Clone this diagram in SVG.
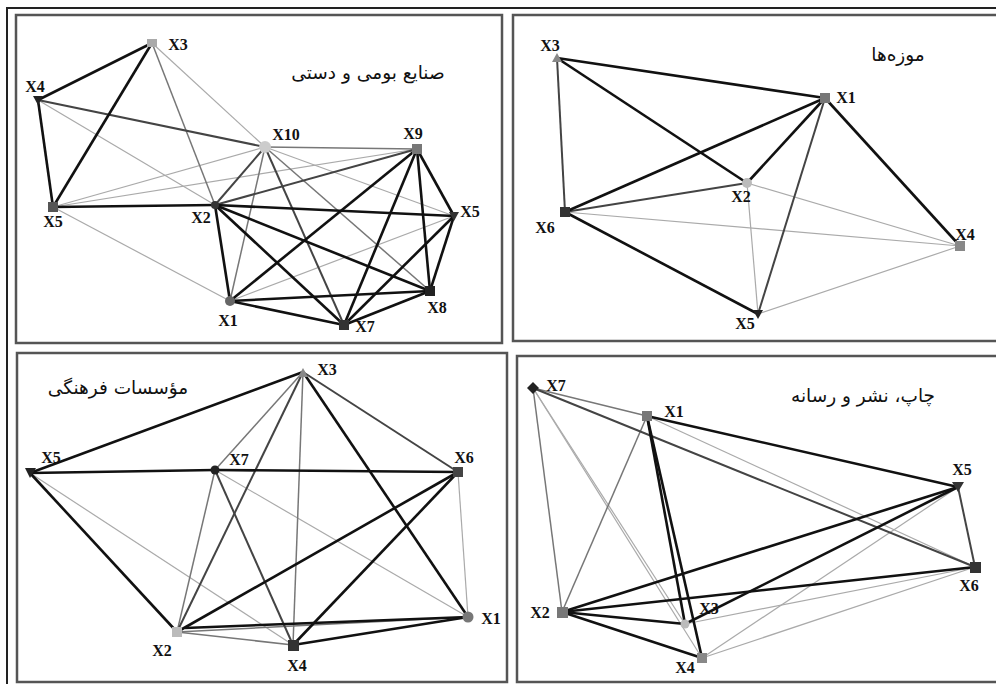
<svg xmlns="http://www.w3.org/2000/svg" width="996" height="684" viewBox="0 0 996 684">
<style>
.frame{fill:none;stroke:#222;stroke-width:2}
.panel{fill:none;stroke:#555;stroke-width:2.5}
.e1{stroke:#111;stroke-width:2.6;fill:none}
.e2{stroke:#444;stroke-width:2;fill:none}
.e3{stroke:#777;stroke-width:1.5;fill:none}
.e4{stroke:#aaa;stroke-width:1.2;fill:none}
.lbl{font-family:"Liberation Serif",serif;font-size:16px;font-weight:bold;fill:#111;text-anchor:middle}
.ttl{font-family:"DejaVu Sans","Noto Sans",sans-serif;font-size:18.5px;fill:#111;text-anchor:middle}
</style>
<rect width="996" height="684" fill="#fff"/>
<rect class="frame" x="7" y="8" width="1000" height="700"/>
<g id="panels">
<rect class="panel" x="16" y="15" width="486" height="328"/>
<rect class="panel" x="513" y="15" width="490" height="326"/>
<rect class="panel" x="17" y="353" width="490" height="329"/>
<rect class="panel" x="517" y="356" width="490" height="326"/>
</g>
<g id="connectors">
<!-- Panel 1 -->
<line class="e4" x1="152" y1="43" x2="265" y2="147"/>
<line class="e4" x1="38" y1="100" x2="215" y2="205"/>
<line class="e4" x1="53" y1="207" x2="265" y2="147"/>
<line class="e4" x1="53" y1="207" x2="417" y2="149"/>
<line class="e4" x1="53" y1="207" x2="230" y2="301"/>
<line class="e4" x1="265" y1="147" x2="454" y2="216"/>
<line class="e4" x1="454" y1="216" x2="230" y2="301"/>
<line class="e3" x1="152" y1="43" x2="215" y2="205"/>
<line class="e3" x1="265" y1="147" x2="417" y2="149"/>
<line class="e3" x1="265" y1="147" x2="230" y2="301"/>
<line class="e3" x1="265" y1="147" x2="430" y2="291"/>
<line class="e2" x1="38" y1="100" x2="265" y2="147"/>
<line class="e2" x1="265" y1="147" x2="215" y2="205"/>
<line class="e2" x1="215" y1="205" x2="417" y2="149"/>
<line class="e2" x1="265" y1="147" x2="344" y2="325"/>
<line class="e1" x1="152" y1="43" x2="38" y2="100"/>
<line class="e1" x1="152" y1="43" x2="53" y2="207"/>
<line class="e1" x1="38" y1="100" x2="53" y2="207"/>
<line class="e1" x1="53" y1="207" x2="215" y2="205"/>
<line class="e1" x1="215" y1="205" x2="454" y2="216"/>
<line class="e1" x1="215" y1="205" x2="430" y2="291"/>
<line class="e1" x1="215" y1="205" x2="344" y2="325"/>
<line class="e1" x1="215" y1="205" x2="230" y2="301"/>
<line class="e1" x1="230" y1="301" x2="430" y2="291"/>
<line class="e1" x1="230" y1="301" x2="344" y2="325"/>
<line class="e1" x1="344" y1="325" x2="430" y2="291"/>
<line class="e1" x1="417" y1="149" x2="454" y2="216"/>
<line class="e1" x1="417" y1="149" x2="430" y2="291"/>
<line class="e1" x1="417" y1="149" x2="344" y2="325"/>
<line class="e1" x1="417" y1="149" x2="230" y2="301"/>
<line class="e1" x1="454" y1="216" x2="344" y2="325"/>
<line class="e1" x1="454" y1="216" x2="430" y2="291"/>
<!-- Panel 2 -->
<line class="e4" x1="565" y1="212" x2="960" y2="246"/>
<line class="e4" x1="747" y1="183" x2="960" y2="246"/>
<line class="e4" x1="747" y1="183" x2="758" y2="314"/>
<line class="e4" x1="758" y1="314" x2="960" y2="246"/>
<line class="e2" x1="557" y1="58" x2="565" y2="212"/>
<line class="e2" x1="825" y1="98" x2="758" y2="314"/>
<line class="e2" x1="565" y1="212" x2="747" y2="183"/>
<line class="e1" x1="557" y1="58" x2="825" y2="98"/>
<line class="e1" x1="557" y1="58" x2="747" y2="183"/>
<line class="e1" x1="565" y1="212" x2="825" y2="98"/>
<line class="e1" x1="565" y1="212" x2="758" y2="314"/>
<line class="e1" x1="825" y1="98" x2="747" y2="183"/>
<line class="e1" x1="825" y1="98" x2="960" y2="246"/>
<!-- Panel 3 -->
<line class="e4" x1="30" y1="473" x2="293" y2="645"/>
<line class="e4" x1="215" y1="470" x2="468" y2="617"/>
<line class="e4" x1="458" y1="472" x2="468" y2="617"/>
<line class="e3" x1="303" y1="372" x2="215" y2="470"/>
<line class="e3" x1="303" y1="372" x2="293" y2="645"/>
<line class="e3" x1="215" y1="470" x2="177" y2="632"/>
<line class="e3" x1="177" y1="632" x2="293" y2="645"/>
<line class="e3" x1="177" y1="632" x2="468" y2="617"/>
<line class="e2" x1="303" y1="372" x2="458" y2="472"/>
<line class="e2" x1="215" y1="470" x2="293" y2="645"/>
<line class="e2" x1="303" y1="372" x2="177" y2="632"/>
<line class="e1" x1="30" y1="473" x2="303" y2="372"/>
<line class="e1" x1="30" y1="473" x2="215" y2="470"/>
<line class="e1" x1="215" y1="470" x2="458" y2="472"/>
<line class="e1" x1="30" y1="473" x2="177" y2="632"/>
<line class="e1" x1="303" y1="372" x2="468" y2="617"/>
<line class="e1" x1="458" y1="472" x2="177" y2="632"/>
<line class="e1" x1="458" y1="472" x2="293" y2="645"/>
<line class="e1" x1="185" y1="628" x2="468" y2="617"/>
<line class="e1" x1="293" y1="645" x2="468" y2="617"/>
<!-- Panel 4 -->
<line class="e4" x1="533" y1="388" x2="685" y2="624"/>
<line class="e4" x1="533" y1="388" x2="702" y2="658"/>
<line class="e4" x1="647" y1="416" x2="975" y2="567"/>
<line class="e4" x1="702" y1="658" x2="958" y2="487"/>
<line class="e4" x1="702" y1="658" x2="975" y2="567"/>
<line class="e4" x1="685" y1="624" x2="975" y2="567"/>
<line class="e3" x1="533" y1="388" x2="647" y2="416"/>
<line class="e3" x1="647" y1="416" x2="562" y2="612"/>
<line class="e3" x1="533" y1="388" x2="562" y2="612"/>
<line class="e2" x1="533" y1="388" x2="975" y2="567"/>
<line class="e1" x1="562" y1="612" x2="975" y2="567"/>
<line class="e2" x1="958" y1="487" x2="975" y2="567"/>
<line class="e1" x1="647" y1="416" x2="958" y2="487"/>
<line class="e1" x1="647" y1="416" x2="685" y2="624"/>
<line class="e1" x1="647" y1="416" x2="702" y2="658"/>
<line class="e1" x1="562" y1="612" x2="958" y2="487"/>
<line class="e1" x1="562" y1="612" x2="685" y2="624"/>
<line class="e1" x1="562" y1="612" x2="702" y2="658"/>
<line class="e1" x1="685" y1="624" x2="958" y2="487"/>
</g>
<g id="p1-title"><text class="ttl" x="368" y="79">صنایع بومی و دستی</text></g>
<g id="p1-X3"><rect x="147" y="39" width="10" height="8" fill="#aaa"/><text class="lbl" x="178" y="50">X3</text></g>
<g id="p1-X4"><path d="M33,96 L43,96 L38,105 Z" fill="#222"/><text class="lbl" x="35" y="92">X4</text></g>
<g id="p1-X5"><rect x="48" y="202" width="10" height="10" fill="#555"/><text class="lbl" x="53" y="227">X5</text></g>
<g id="p1-X2"><circle cx="215" cy="205" r="4" fill="#333"/><text class="lbl" x="201" y="223">X2</text></g>
<g id="p1-X1"><circle cx="230" cy="301" r="5" fill="#666"/><text class="lbl" x="228" y="326">X1</text></g>
<g id="p1-X10"><circle cx="265" cy="147" r="6" fill="#ccc"/><text class="lbl" x="286" y="140">X10</text></g>
<g id="p1-X9"><rect x="412" y="144" width="10" height="10" fill="#777"/><text class="lbl" x="413" y="139">X9</text></g>
<g id="p1-X5b"><path d="M449,212 L459,212 L454,221 Z" fill="#333"/><text class="lbl" x="470" y="217">X5</text></g>
<g id="p1-X8"><rect x="425" y="286" width="10" height="10" fill="#222"/><text class="lbl" x="437" y="313">X8</text></g>
<g id="p1-X7"><rect x="339" y="320" width="10" height="10" fill="#333"/><text class="lbl" x="365" y="332">X7</text></g>

<g id="p2-title"><text class="ttl" x="898" y="61">موزه‌ها</text></g>
<g id="p2-X3"><path d="M552,62 L562,62 L557,53 Z" fill="#888"/><text class="lbl" x="550" y="51">X3</text></g>
<g id="p2-X1"><rect x="820" y="93" width="10" height="10" fill="#777"/><text class="lbl" x="846" y="103">X1</text></g>
<g id="p2-X2"><circle cx="747" cy="183" r="5" fill="#bbb"/><text class="lbl" x="741" y="202">X2</text></g>
<g id="p2-X6"><rect x="560" y="207" width="10" height="10" fill="#333"/><text class="lbl" x="545" y="233">X6</text></g>
<g id="p2-X4"><rect x="955" y="241" width="10" height="10" fill="#888"/><text class="lbl" x="965" y="240">X4</text></g>
<g id="p2-X5"><path d="M753,310 L763,310 L758,319 Z" fill="#222"/><text class="lbl" x="745" y="329">X5</text></g>

<g id="p3-title"><text class="ttl" x="118" y="394">مؤسسات فرهنگی</text></g>
<g id="p3-X5"><path d="M25,468 L36,468 L30,478 Z" fill="#222"/><text class="lbl" x="51" y="463">X5</text></g>
<g id="p3-X7"><circle cx="215" cy="470" r="4.5" fill="#222"/><text class="lbl" x="239" y="465">X7</text></g>
<g id="p3-X3"><path d="M298,377 L308,377 L303,368 Z" fill="#888"/><text class="lbl" x="327" y="375">X3</text></g>
<g id="p3-X6"><rect x="453" y="467" width="10" height="10" fill="#444"/><text class="lbl" x="464" y="463">X6</text></g>
<g id="p3-X1"><circle cx="468" cy="617" r="5.5" fill="#777"/><text class="lbl" x="491" y="624">X1</text></g>
<g id="p3-X2"><rect x="172" y="627" width="10" height="10" fill="#bbb"/><text class="lbl" x="162" y="656">X2</text></g>
<g id="p3-X4"><rect x="288" y="640" width="11" height="11" fill="#333"/><text class="lbl" x="297" y="671">X4</text></g>

<g id="p4-title"><text class="ttl" x="863" y="402">چاپ، نشر و رسانه</text></g>
<g id="p4-X7"><path d="M533,382 L539,388 L533,394 L527,388 Z" fill="#222"/><text class="lbl" x="556" y="391">X7</text></g>
<g id="p4-X1"><rect x="642" y="411" width="10" height="10" fill="#777"/><text class="lbl" x="674" y="417">X1</text></g>
<g id="p4-X2"><rect x="557" y="607" width="11" height="11" fill="#777"/><text class="lbl" x="540" y="618">X2</text></g>
<g id="p4-X3"><circle cx="685" cy="624" r="4.5" fill="#bbb"/><text class="lbl" x="709" y="614">X3</text></g>
<g id="p4-X4"><rect x="697" y="653" width="10" height="10" fill="#888"/><text class="lbl" x="685" y="673">X4</text></g>
<g id="p4-X5"><path d="M952,482 L964,482 L958,492 Z" fill="#333"/><text class="lbl" x="962" y="475">X5</text></g>
<g id="p4-X6"><rect x="970" y="562" width="11" height="11" fill="#333"/><text class="lbl" x="969" y="591">X6</text></g>
</svg>
